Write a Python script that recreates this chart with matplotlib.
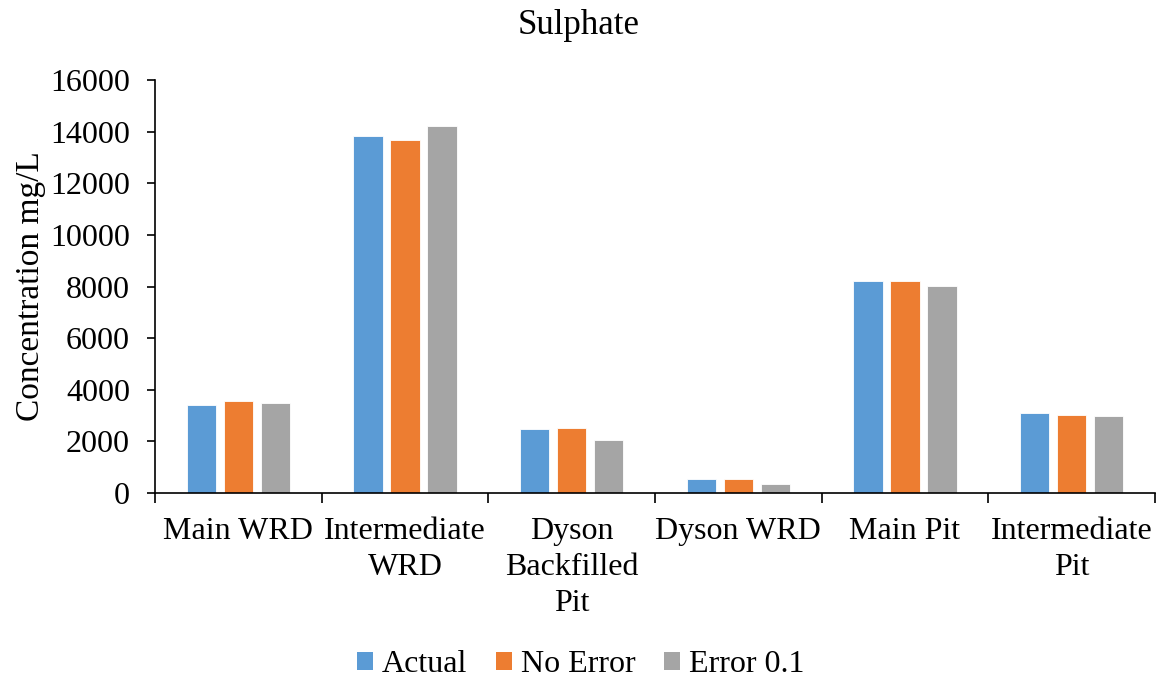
import numpy as np
import matplotlib.pyplot as plt
from matplotlib.patches import Patch

plt.rcParams['font.family'] = ['Liberation Serif', 'DejaVu Serif']

categories = ['Main WRD', 'Intermediate\nWRD', 'Dyson\nBackfilled\nPit', 'Dyson WRD', 'Main Pit', 'Intermediate\nPit']
actual = [3410, 13820, 2470, 560, 8200, 3080]
no_error = [3555, 13665, 2535, 530, 8200, 3040]
error_01 = [3475, 14210, 2055, 365, 8010, 3000]

series = [('Actual', actual, '#5B9BD5'),
          ('No Error', no_error, '#ED7D31'),
          ('Error 0.1', error_01, '#A5A5A5')]

W, H = 1161, 682
fs = 23
fig = plt.figure(figsize=(W / 100, H / 100), dpi=100)
ax = fig.add_axes([155 / W, (H - 493) / H, 1000 / W, 413 / H])

x = np.arange(len(categories))
step = 0.222
width = 0.176
for i, (name, vals, col) in enumerate(series):
    ax.bar(x + (i - 1) * step, vals, width, color=col, edgecolor='white', linewidth=0.6)

ax.set_xlim(-0.5, len(categories) - 0.5)
ax.set_ylim(0, 16000)
ax.set_yticks(np.arange(0, 16001, 2000))
ax.tick_params(axis='y', labelsize=fs, length=6, width=1.2, pad=12)

# category boundaries get the tick marks, labels sit between them
ax.set_xticks(np.arange(-0.5, len(categories), 1))
ax.set_xticklabels([])
ax.tick_params(axis='x', which='major', length=7, width=1.2)
ax.set_xticks(x, minor=True)
ax.set_xticklabels(categories, minor=True, fontsize=fs, linespacing=1.33)
ax.tick_params(axis='x', which='minor', length=0, pad=17)

for s in ['top', 'right']:
    ax.spines[s].set_visible(False)
for s in ['left', 'bottom']:
    ax.spines[s].set_linewidth(1.2)

ax.set_ylabel('Concentration mg/L', fontsize=24, labelpad=3)
fig.text(0.498, 1 - 25 / H, 'Sulphate', ha='center', va='center', fontsize=25)

handles = [Patch(facecolor=c, label=n) for n, _, c in series]
fig.legend(handles=handles, loc='center', bbox_to_anchor=(0.5, 17 / H), ncol=3,
           frameon=False, fontsize=fs, handlelength=0.5, handleheight=0.5,
           handletextpad=0.28, columnspacing=0.9)

fig.savefig('out.png', dpi=100)
